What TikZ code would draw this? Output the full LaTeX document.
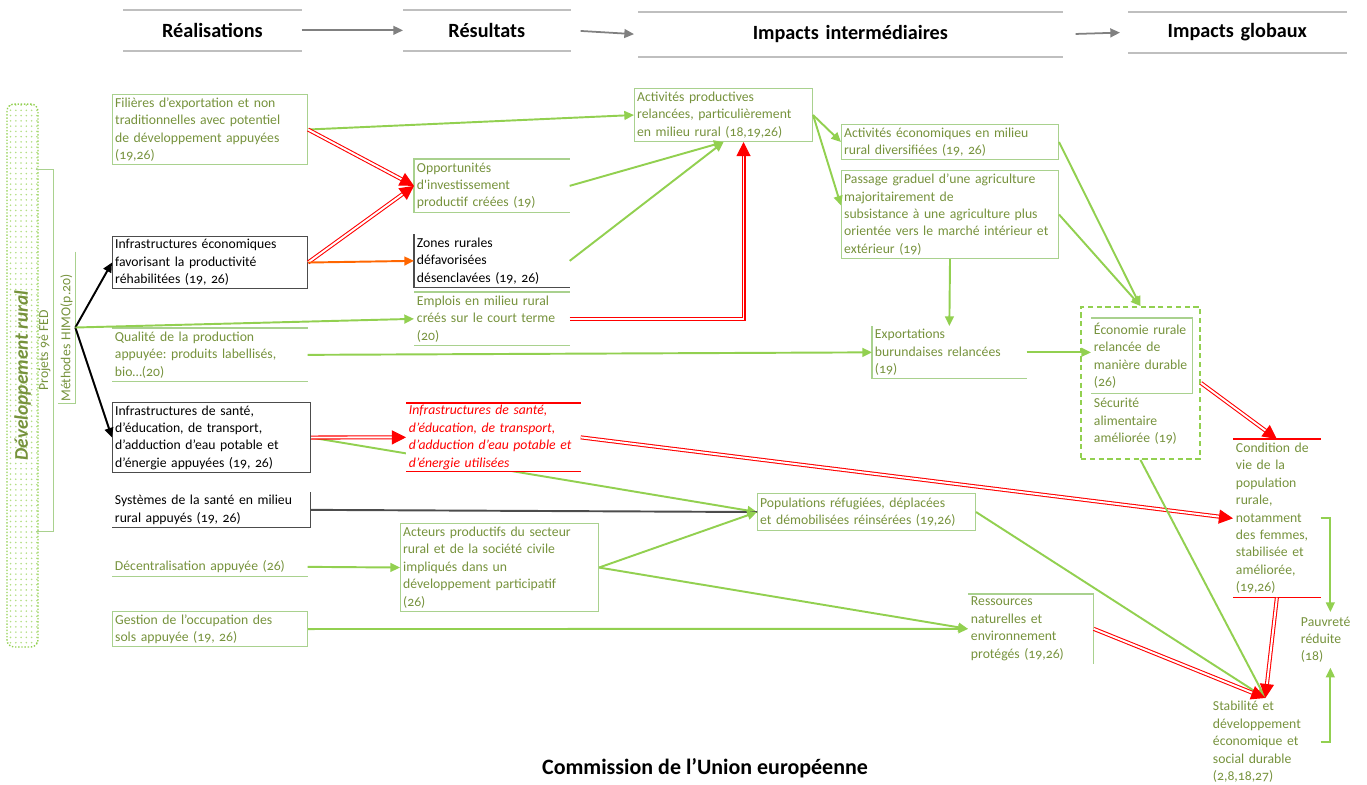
\documentclass[tikz,border=0pt]{standalone}
\usepackage{fontspec}
\setmainfont{Carlito}[Numbers=OldStyle]
\usepackage{tikz}
\usetikzlibrary{arrows.meta,patterns}
\usepackage{xcolor}
\definecolor{txtg}{HTML}{76923C}
\definecolor{boxg}{HTML}{A9D18E}
\definecolor{arrg}{HTML}{92D050}
\definecolor{hdr}{HTML}{BFBFBF}
\definecolor{hdrarr}{HTML}{808080}
\definecolor{orng}{HTML}{FF6600}
\hyphenpenalty=10000
\exhyphenpenalty=10000
\frenchspacing

\begin{document}
\begin{tikzpicture}[x=0.02cm,y=-0.02cm,>={Triangle[length=5.5pt,width=5pt]},font=\fontsize{7.8}{9.9}\selectfont]
\tikzset{sz/.style 2 args={minimum width=#1*0.02cm,minimum height=#2*0.02cm,text width=#1*0.02cm-3pt}}
\tikzstyle{base}=[anchor=north west,inner xsep=1.5pt,inner ysep=0pt,align=left]
\tikzstyle{gbox}=[base,draw=boxg,line width=0.6pt,text=txtg]
\tikzstyle{gtxt}=[base,text=txtg]
\tikzstyle{kbox}=[base,draw=black!70,line width=0.6pt,text=black]
\tikzstyle{ktxt}=[base,text=black]
\tikzstyle{rtxt}=[base,text=red,font=\fontsize{7.8}{9.9}\selectfont\itshape]
\tikzstyle{hd}=[anchor=north west,inner sep=0pt,align=center,font=\fontsize{11.5}{13}\selectfont\bfseries]
\tikzstyle{gline}=[draw=boxg,line width=0.6pt]
\tikzstyle{kline}=[draw=black!70,line width=0.6pt]
\tikzstyle{rline}=[draw=red,line width=0.6pt]
\tikzstyle{hline}=[draw=hdr,line width=1pt]
\tikzstyle{harrow}=[->,draw=hdrarr,line width=1pt]
\tikzstyle{garrow}=[->,draw=arrg,line width=1.1pt]
\tikzstyle{karrow}=[->,draw=black,line width=1.1pt]
\tikzstyle{oarrow}=[->,draw=orng,line width=1.1pt]
\tikzstyle{rarrow}=[>={Triangle[length=8pt,width=8pt]},->,draw=red,double=white,double distance=1.1pt,line width=0.6pt]
\useasboundingbox(0,0)rectangle(1367,785);
  \node(hrea)at(123,10)[hd,sz={178}{40}]{Réalisations};
  \node(hres)at(403,10)[hd,sz={167}{40}]{Résultats};
  \node(himp)at(638,12)[hd,sz={424}{44}]{Impacts intermédiaires};
  \node(hglo)at(1128,12)[hd,sz={218}{40}]{Impacts globaux};
  \draw[hline](hrea.north west)--(hrea.north east)(hrea.south west)--(hrea.south east);
  \draw[hline](hres.north west)--(hres.north east)(hres.south west)--(hres.south east);
  \draw[hline](himp.north west)--(himp.north east)(himp.south west)--(himp.south east);
  \draw[hline](hglo.north west)--(hglo.north east)(hglo.south west)--(hglo.south east);
  \draw[harrow](hrea.east)--(hres.west);
  \draw[harrow,shorten <=0.2cm,shorten >=0.08cm](hres.east)--(himp.west);
  \draw[harrow,shorten <=0.26cm,shorten >=0.16cm](himp.east)--(hglo.west);
  \node(dev)at(22.5,375.5)[rotate=90,draw=arrg,densely dotted,line width=0.8pt,rounded corners=4pt,pattern=dots,pattern color=arrg!70,minimum width=10.86cm,minimum height=0.62cm,inner sep=0pt,text=txtg,font=\fontsize{11}{13}\selectfont\bfseries\itshape]{Développement rural};
  \node(fed)at(44.5,350.5)[rotate=90,minimum width=7.22cm,minimum height=0.34cm,inner sep=0pt,text=txtg]{Projets 9è FED};
  \node(himo)at(66.5,327.5)[rotate=90,minimum width=3.02cm,minimum height=0.34cm,text width=2.96cm,align=left,inner sep=0pt,text=txtg]{Méthodes HIMO(p.20)};
  \draw[gline](fed.north east)--(fed.south east)--(fed.south west)--(fed.north west);
  \draw[gline](himo.south east)--(himo.south west)--(himo.north west);
  \node(fil)at(112,94)[gbox,sz={195}{70}]{Filières d’exportation et non\\traditionnelles avec potentiel\\de développement appuyées\\(19,26)};
  \node(infe)at(112,236)[kbox,sz={195}{52}]{Infrastructures économiques\\favorisant la productivité\\réhabilitées (19, 26)};
  \node(qual)at(112,328)[gtxt,sz={195}{53}]{Qualité de la production\\appuyée: produits labellisés,\\bio…(20)};
  \node(infs)at(112,402)[kbox,sz={198}{70}]{Infrastructures de santé,\\d’éducation, de transport,\\d’adduction d’eau potable et\\d’énergie appuyées (19, 26)};
  \node(sys)at(112,492)[ktxt,sz={198}{35}]{Systèmes de la santé en milieu\\rural appuyés (19, 26)};
  \node(dec)at(112,557)[gtxt,sz={195}{19}]{Décentralisation appuyée (26)};
  \node(ges)at(112,611)[gbox,sz={195}{35}]{Gestion de l’occupation des\\sols appuyée (19, 26)};
  \node(opp)at(414,159)[gtxt,sz={155}{53}]{Opportunités\\d\textquotesingle investissement\\productif créées (19)};
  \node(zon)at(414,234)[ktxt,sz={155}{53}]{Zones rurales\\défavorisées\\désenclavées (19, 26)};
  \node(emp)at(414,292)[gtxt,sz={155}{53}]{Emplois en milieu rural\\créés sur le court terme\\(20)};
  \node(act)at(400,523)[gbox,sz={198}{88}]{Acteurs productifs du secteur\\rural et de la société civile\\impliqués dans un\\développement participatif\\(26)};
  \node(apr)at(634,88)[gbox,sz={178}{53}]{Activités productives\\relancées, particulièrement\\en milieu rural (18,19,26)};
  \node(pop)at(757,493)[gbox,sz={218}{37}]{Populations réfugiées, déplacées\\et démobilisées réinsérées (19,26)};
  \node(aec)at(841,124)[gbox,sz={217}{35}]{Activités économiques en milieu\\rural diversifiées (19, 26)};
  \node(pas)at(841,170)[gbox,sz={217}{88}]{Passage graduel d’une agriculture\\majoritairement de\\subsistance à une agriculture plus\\orientée~vers~le~marché~intérieur~et\\extérieur (19)};
  \node(exp)at(872,326)[gtxt,sz={154}{52}]{Exportations\\burundaises relancées\\(19)};
  \node(res)at(968,594)[gtxt,sz={125}{69}]{Ressources\\naturelles et\\environnement\\protégés (19,26)};
  \node(ecr)at(1091,318)[gtxt,sz={101}{75}]{Économie~rurale\\relancée de\\manière~durable\\(26)};
  \node(sec)at(1091,394)[gtxt,sz={100}{54}]{Sécurité\\alimentaire\\améliorée (19)};
  \node(eco)at(1080,306)[anchor=north west,draw=arrg,dash pattern=on 3pt off 2pt,line width=1.1pt,minimum width=2.38cm,minimum height=3.04cm]{};
  \node(cond)at(1233,439)[gtxt,sz={87}{158}]{Condition de\\vie de la\\population\\rurale,\\notamment\\des femmes,\\stabilisée et\\améliorée,\\(19,26)};
  \node(pauv)at(1298,612)[gtxt,sz={64}{55}]{Pauvreté\\réduite\\(18)};
  \node(stab)at(1210,698)[gtxt,sz={110}{87}]{Stabilité et\\développement\\économique et\\social durable\\(2,8,18,27)};
  \node(src)at(705,768)[font=\fontsize{12.5}{14}\selectfont\bfseries]{Commission de l’Union européenne};
  \draw[gline](qual.north west)--(qual.north east)(qual.south west)--(qual.south east);
  \draw[kline](sys.north east)--(sys.south east)--(sys.south west);
  \draw[gline](dec.south west)--(dec.south east);
  \draw[gline](opp.north east)--(opp.north west)--(opp.south west)--(opp.south east);
  \draw[kline](zon.north west)--(zon.south west)--(zon.south east);
  \draw[gline](emp.north west)--(emp.north east)(emp.south west)--(emp.south east);
  \draw[gline](exp.north west)--(exp.south west)--(exp.south east);
  \draw[gline](res.north west)--(res.north east)--(res.south east);
  \draw[gline](ecr.north west)--(ecr.north east)--(ecr.south east)--(ecr.south west);
  \draw[rline](cond.north west)--(cond.north east)(cond.south west)--(cond.south east);
  \draw[garrow](infs.east)--(pop.west);
  \node(infu)at(406,403)[rtxt,fill=white,sz={174}{68}]{Infrastructures de santé,\\d’éducation, de transport,\\d’adduction~d’eau~potable~et\\d’énergie utilisées};
  \draw[rline](infu.north west)--(infu.north east)(infu.south west)--(infu.south east);
  \draw[garrow](fil.east)--(apr.west);
  \draw[rarrow](fil.east)--(opp.west);
  \draw[rarrow](infe.east)--(opp.west);
  \draw[oarrow](infe.east)--(zon.west);
  \draw[garrow](opp.east)--(apr.south);
  \draw[garrow](zon.east)--(apr.south);
  \draw[rarrow](emp.east)-|([xshift=0.4cm]apr.south);
  \draw[karrow](himo.south)--(infe.west);
  \draw[karrow](himo.south)--(infs.west);
  \draw[garrow](himo.south)--(emp.west);
  \draw[garrow](qual.east)--(exp.west);
  \draw[rarrow](infs.east)--(infu.west);
  \draw[rarrow](infu.east)--(cond.west);
  \draw[kline,line width=1.1pt](sys.east)--(pop.west);
  \draw[garrow](dec.east)--(act.west);
  \draw[garrow](ges.east)--(res.west);
  \draw[garrow](act.east)--(pop.west);
  \draw[garrow](act.east)--(res.west);
  \draw[garrow](apr.east)--(aec.west);
  \draw[garrow](apr.east)--([yshift=0.18cm]pas.west);
  \draw[garrow](pas.south)--(exp.north);
  \draw[garrow](exp.east)--(exp.east-|ecr.west);
  \draw[garrow](aec.east)--(eco.north);
  \draw[garrow](pas.east)--(eco.north);
  \draw[rarrow](eco.east)--(cond.north);
  \draw[garrow](pop.east)--(stab.north);
  \draw[garrow](eco.south)--(stab.north);
  \draw[rarrow](res.east)--(stab.north);
  \draw[rarrow](cond.south)--(stab.north);
  \draw[garrow](cond.east)-|(pauv.north);
  \draw[garrow](stab.east)-|(pauv.south);
\end{tikzpicture}
\end{document}
